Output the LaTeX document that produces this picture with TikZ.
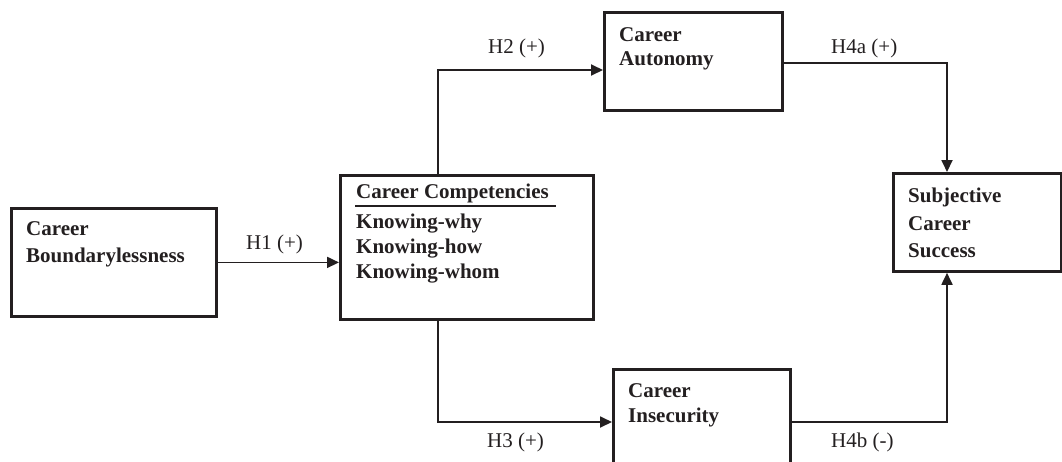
\documentclass[tikz,border=0pt]{standalone}
\usepackage{fontspec}
\setmainfont{Liberation Serif}
\usetikzlibrary{arrows.meta,calc}
\definecolor{ink}{HTML}{231F20}
\begin{document}
\begin{tikzpicture}[x=1pt,y=-1pt,
  box/.style={draw=ink,line width=2.8pt,inner sep=0pt,anchor=north west},
  lbl/.style={font=\fontsize{21}{25}\selectfont,anchor=base west,inner sep=0pt,text=ink},
  txt/.style={font=\fontsize{21}{27}\selectfont\bfseries,anchor=base west,inner sep=0pt,text=ink},
  conn/.style={draw=ink,line width=1.8pt},
  arr/.style={conn,-{Triangle[length=12pt,width=11pt]}}]
\useasboundingbox (0,0) rectangle (1062,461);
\clip (0,0) rectangle (1062,461);
% boxes
\node[box,minimum width=205pt,minimum height=108pt] (bl) at (10,207) {};
\node[box,minimum width=253pt,minimum height=144pt] (cc) at (339,174) {};
\node[box,minimum width=178pt,minimum height=98pt] (ca) at (603,11) {};
\node[box,minimum width=177pt,minimum height=112pt] (ci) at (612,368) {};
\node[box,minimum width=168pt,minimum height=98pt] (sc) at (892,172) {};
% texts
\node[txt] (bl1) at (26,235) {Career};
\node[txt] (bl2) at (26,262) {Boundarylessness};
\node[txt] (cc1) at (356,198) {Career Competencies};
\node[txt] (cc2) at (356,228) {Knowing-why};
\node[txt] (cc3) at (356,253) {Knowing-how};
\node[txt] (cc4) at (356,278) {Knowing-whom};
\node[txt] (ca1) at (619,41) {Career};
\node[txt] (ca2) at (619,65) {Autonomy};
\node[txt] (ci1) at (628,397) {Career};
\node[txt] (ci2) at (628,422) {Insecurity};
\node[txt] (sc1) at (908,202) {Subjective};
\node[txt] (sc2) at (908,230) {Career};
\node[txt] (sc3) at (908,257) {Success};
\draw[ink,line width=2.5pt] (355,206) -- (556,206);
% labels
\node[lbl] (h1) at (246,249) {H1 (+)};
\node[lbl] (h2) at (488,53) {H2 (+)};
\node[lbl] (h4a) at (831,53) {H4a (+)};
\node[lbl] (h3) at (487,447) {H3 (+)};
\node[lbl] (h4b) at (831,447) {H4b (-)};
% connector points
\coordinate (h2s) at (438,174);
\coordinate (h2k) at (438,70);
\coordinate (h3s) at (438,318);
\coordinate (h3k) at (438,422);
\coordinate (h4as) at (781,63);
\coordinate (h4ak) at (947,63);
\coordinate (h4bs) at (789,422);
\coordinate (h4bk) at (947,422);
% connectors
\draw[arr] (bl.east) -- (cc.west |- bl.east);
\draw[arr] (h2s) -- (h2k) -- (ca.west |- h2k);
\draw[arr] (h3s) -- (h3k) -- (ci.west |- h3k);
\draw[arr] (h4as) -- (h4ak) -- (sc.north -| h4ak);
\draw[arr] (h4bs) -- (h4bk) -- (sc.south -| h4bk);
\end{tikzpicture}
\end{document}
